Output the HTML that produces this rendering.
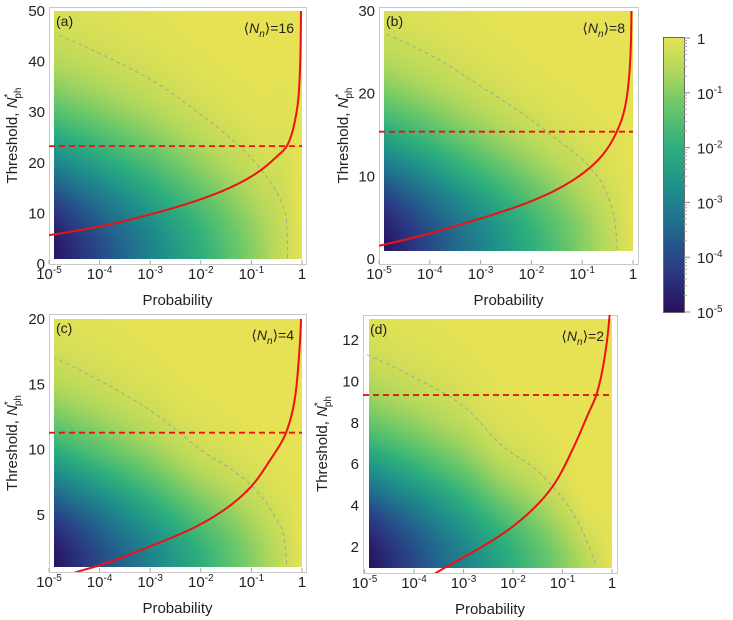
<!DOCTYPE html>
<html><head><meta charset="utf-8">
<style>
body{margin:0;background:#fff;}
#root{position:relative;width:733px;height:620px;overflow:hidden;font-family:"Liberation Sans",sans-serif;}
canvas{position:absolute;}
svg{position:absolute;left:0;top:0;}
</style></head>
<body>
<div id="root">
<canvas id="hm-a"></canvas>
<canvas id="hm-b"></canvas>
<canvas id="hm-c"></canvas>
<canvas id="hm-d"></canvas>
<canvas id="cbar"></canvas>
<svg id="ov" width="733" height="620"></svg>
</div>
<script>
// ---- data ----
const xTickLabels=["10","10","10","10","10","1"];
const xTickExp=["-5","-4","-3","-2","-1",""];
const yTicks_a=[0,10,20,30,40,50];
const yTicks_b=[0,10,20,30];
const yTicks_c=[5,10,15,20];
const yTicks_d=[2,4,6,8,10,12];
const cbarExp=["","-1","-2","-3","-4","-5"];
const contourLevel=0.5;
const redP_a=[1e-5,1e-4,1e-3,1e-2,0.1,0.3,0.513,0.728,0.871,0.942,0.955];
const redN_a=[5.7,7.4,9.8,12.8,17.3,21.0,23.5,28.4,34.3,44.2,50];
const dashP_a=[1.3e-5,1e-4,1e-3,9.5e-3,0.0437,0.2,0.427,0.513,0.52];
const dashN_a=[45.5,41.6,36.5,29.7,24.4,17.2,11.3,5.3,1.2];
const redP_b=[1e-5,1e-4,1e-3,1e-2,0.1,0.26,0.479,0.697,0.847,0.912,0.933];
const redN_b=[1.6,3.1,4.9,7.0,10.3,12.7,15.4,18.4,22.4,26.4,30];
const dashP_b=[1.3e-5,1e-4,1e-3,6.0e-3,0.0269,0.123,0.302,0.479,0.49];
const dashN_b=[27.3,24.7,20.9,17.8,14.8,11.5,7.9,2.3,1.1];
const redP_c=[1.5e-5,3.2e-5,1e-4,1e-3,1e-2,0.1,0.234,0.483,0.728,0.871,0.955];
const redN_c=[0.1,0.58,1.15,2.6,4.3,7.2,9.2,11.3,14.0,17.1,20];
const dashP_c=[1.3e-5,1e-4,1e-3,9.5e-3,0.0437,0.11,0.269,0.461,0.5];
const dashN_c=[17,15.3,13,10.05,8.4,7.1,5.1,2.8,1.25];
const redP_d=[1.5e-4,2.75e-4,1e-3,1e-2,0.0646,0.166,0.309,0.49,0.724,0.871,0.9];
const redN_d=[0.3,0.74,1.5,3.0,4.96,6.8,8.27,9.4,11.3,12.9,13.3];
const dashP_d=[1.1e-5,1e-4,1e-3,5.5e-3,0.0257,0.0646,0.166,0.309,0.457];
const dashN_d=[11.3,10.2,8.8,6.98,5.85,4.9,3.6,2.3,1.2];
const hline=[23.3,15.4,11.3,9.34];
const meanN=["16","8","4","2"];
const letters=["a","b","c","d"];

// ---- layout ----
const panels=[
 {id:'a',fx0:49,fy0:7,fx1:306,fy1:264,x0:49,x1:302,yv0:0,yp0:264,yv1:50,yp1:11,ymax:50,ticks:yTicks_a,rp:redP_a,rn:redN_a,dp:dashP_a,dn:dashN_a,ylx:12},
 {id:'b',fx0:379,fy0:7,fx1:638,fy1:264,x0:379,x1:633,yv0:0,yp0:259,yv1:30,yp1:11,ymax:30,ticks:yTicks_b,rp:redP_b,rn:redN_b,dp:dashP_b,dn:dashN_b,ylx:343},
 {id:'c',fx0:49,fy0:314,fx1:306,fy1:572,x0:49,x1:302,yv0:5,yp0:515,yv1:20,yp1:319,ymax:20,ticks:yTicks_c,rp:redP_c,rn:redN_c,dp:dashP_c,dn:dashN_c,ylx:12},
 {id:'d',fx0:363,fy0:315,fx1:617,fy1:573,x0:364.5,x1:612,yv0:2,yp0:547,yv1:12,yp1:340,ymax:13,ticks:yTicks_d,rp:redP_d,rn:redN_d,dp:dashP_d,dn:dashN_d,ylx:322}
];
const stops=[[0,[40,15,94]],[0.15,[42,58,132]],[0.3,[34,103,141]],[0.45,[31,142,139]],[0.6,[45,175,125]],[0.75,[105,199,106]],[0.88,[178,216,92]],[1,[230,226,84]]];
function cmap(t){t=Math.max(0,Math.min(1,t));for(let i=1;i<stops.length;i++){if(t<=stops[i][0]){const a=stops[i-1],b=stops[i];const f=(t-a[0])/(b[0]-a[0]);return a[1].map((v,j)=>v+(b[1][j]-v)*f);}}return stops[stops.length-1][1];}
const NS='http://www.w3.org/2000/svg';
const ov=document.getElementById('ov');
function mk(tag,attrs,parent){const e=document.createElementNS(NS,tag);for(const k in attrs)e.setAttribute(k,attrs[k]);(parent||ov).appendChild(e);return e;}
function curvePath(ps,ns,xs,ys){
 let pts=ps.map((p,i)=>[Math.log(-Math.log10(p)),ns[i]]).sort((a,b)=>a[0]-b[0]);
 const n=pts.length,X=pts.map(p=>p[0]),Y=pts.map(p=>p[1]);
 const d=[],m=new Array(n);
 for(let i=0;i<n-1;i++)d.push((Y[i+1]-Y[i])/(X[i+1]-X[i]));
 m[0]=d[0];m[n-1]=d[n-2];
 for(let i=1;i<n-1;i++){m[i]=(d[i-1]*d[i]<=0)?0:(d[i-1]+d[i])/2;}
 for(let i=0;i<n-1;i++){if(d[i]===0){m[i]=m[i+1]=0;continue;}const a=m[i]/d[i],b=m[i+1]/d[i],s=a*a+b*b;if(s>9){const t=3/Math.sqrt(s);m[i]=t*a*d[i];m[i+1]=t*b*d[i];}}
 const out=[];
 for(let i=0;i<n-1;i++){const h=X[i+1]-X[i];for(let s=0;s<=20;s++){if(i>0&&s===0)continue;const t=s/20,t2=t*t,t3=t2*t;
  const y=(2*t3-3*t2+1)*Y[i]+(t3-2*t2+t)*h*m[i]+(-2*t3+3*t2)*Y[i+1]+(t3-t2)*h*m[i+1];
  const q=X[i]+t*h;const p=Math.pow(10,-Math.exp(q));out.push([xs(p),ys(y)]);}}
 return 'M'+out.map(p=>p[0].toFixed(2)+','+p[1].toFixed(2)).join(' L');
}
const lvl=Math.log10(contourLevel);

panels.forEach((P,idx)=>{
 const xs=p=>P.x0+(Math.log10(p)+5)/5*(P.x1-P.x0);
 const ys=v=>P.yp0+(v-P.yv0)/(P.yv1-P.yv0)*(P.yp1-P.yp0);
 const g=mk('g',{});
 
 
 const sl=[],sv=[];
 P.dp.forEach((p,i)=>{const lp=Math.log10(p);if(lp<lvl*1.2){sl.push(lp);sv.push((P.dn[i]-1)/Math.sqrt(Math.log(lp/lvl)));}});
 const S=lp=>{if(lp<=sl[0])return sv[0];if(lp>=sl[sl.length-1])return sv[sv.length-1];for(let i=1;i<sl.length;i++){if(lp<=sl[i]){const f=(lp-sl[i-1])/(sl[i]-sl[i-1]);return sv[i-1]+(sv[i]-sv[i-1])*f;}}return sv[sv.length-1];};
 const hx0=Math.round(xs(1.25e-5)),hx1=Math.round(xs(1)),hy0=Math.round(ys(P.ymax)),hy1=Math.round(ys(1));
 const cv=document.getElementById('hm-'+P.id);const w=hx1-hx0,h=hy1-hy0;
 cv.width=w;cv.height=h;cv.style.left=hx0+'px';cv.style.top=hy0+'px';
 const ctx=cv.getContext('2d');const img=ctx.createImageData(w,h);
 for(let i=0;i<w;i++){const lp=(hx0+i+0.5-P.x0)/(P.x1-P.x0)*5-5;const s=S(lp);
  for(let j=0;j<h;j++){const N=P.yv0+(hy0+j+0.5-P.yp0)/(P.yp1-P.yp0)*(P.yv1-P.yv0);const u=Math.max(0,N-1)/s;const c=lp*Math.exp(-u*u);const col=cmap((c+5)/5);const o=(j*w+i)*4;img.data[o]=col[0];img.data[o+1]=col[1];img.data[o+2]=col[2];img.data[o+3]=255;}}
 ctx.putImageData(img,0,0);
 const fr=mk('rect',{x:P.fx0+0.5,y:P.fy0+0.5,width:P.fx1-P.fx0,height:P.fy1-P.fy0,fill:'none',stroke:'#c8c8c8','stroke-width':1},g);
 
 
 const cid='clip'+P.id;const cp=mk('clipPath',{id:cid},g);mk('rect',{x:P.fx0,y:P.fy0,width:P.fx1-P.fx0,height:P.fy1-P.fy0},cp);
 const dg=mk('path',{d:curvePath(P.dp,P.dn,xs,ys),fill:'none',stroke:'#999','stroke-width':0.9,'stroke-dasharray':'4,3',opacity:0.8},g);
 
 
 const hl=mk('line',{x1:P.fx0,x2:hx1,y1:ys(hline[idx]),y2:ys(hline[idx]),stroke:'#ee1111','stroke-width':1.8,'stroke-dasharray':'6,4'},g);
 
 
 const rc=mk('path',{d:curvePath(P.rp,P.rn,xs,ys),fill:'none',stroke:'#ee1111','stroke-width':2,'clip-path':'url(#'+cid+')'},g);
 
 
 const tyx=(P.fy1+15);
 xTickLabels.forEach((t,i)=>{const x=xs(Math.pow(10,i-5));
  mk('line',{x1:x,x2:x,y1:P.fy1,y2:P.fy1-4,stroke:'#aaa'},g);
  const tx=mk('text',{x:x,y:tyx,'font-size':15,'text-anchor':'middle',fill:'#222'},g);
  
  
  tx.textContent=t; if(xTickExp[i]){const s=mk('tspan',{'font-size':10,dy:-6},tx);s.textContent=xTickExp[i];}});
 const xl=mk('text',{x:(P.fx0+P.fx1)/2,y:P.fy1+41,'font-size':15,'text-anchor':'middle',fill:'#222'},g);
 
 
 xl.textContent='Probability';
 P.ticks.forEach(v=>{const y=ys(v);const tx=mk('text',{x:P.fx0-4,y:y+5,'font-size':15,'text-anchor':'end',fill:'#222'},g);
  
  
  tx.textContent=v;});
 const cy=(P.fy0+P.fy1)/2;
 const yl=mk('text',{x:P.ylx+5,y:cy,'font-size':15,'text-anchor':'middle',fill:'#222',transform:'rotate(-90 '+(P.ylx+5)+' '+cy+')'},g);
 
 
 yl.textContent='Threshold, ';
 const it=mk('tspan',{'font-style':'italic'},yl);it.textContent='N';
 const sup=mk('tspan',{'font-size':10,dy:-6},yl);sup.textContent='*';
 const sub=mk('tspan',{'font-size':10,dy:10,dx:-5},yl);sub.textContent='ph';
 const pl=mk('text',{x:P.fx0+7,y:P.fy0+19,'font-size':14,fill:'#222'},g);
 
 
 pl.textContent='('+letters[idx]+')';
 const ml=mk('text',{x:hx1-8,y:P.fy0+26,'font-size':14,'text-anchor':'end',fill:'#222'},g);
 
 
 ml.textContent='⟨';const ni=mk('tspan',{'font-style':'italic'},ml);ni.textContent='N';
 const nn=mk('tspan',{'font-style':'italic','font-size':10,dy:4},ml);nn.textContent='n';
 const rest=mk('tspan',{dy:-4},ml);rest.textContent='⟩='+meanN[idx];
});
(function(){const cx0=664,cy0=38,cw=20,ch=274;const cv=document.getElementById('cbar');cv.width=cw;cv.height=ch;cv.style.left=cx0+'px';cv.style.top=cy0+'px';
 const ctx=cv.getContext('2d');for(let j=0;j<ch;j++){const c=cmap(1-(j+0.5)/ch);ctx.fillStyle='rgb('+c.map(Math.round).join(',')+')';ctx.fillRect(0,j,cw,1);}
 mk('rect',{x:cx0-0.5,y:cy0-0.5,width:cw+1,height:ch+1,fill:'none',stroke:'#444','stroke-width':0.8});
 cbarExp.forEach((e,i)=>{const y=cy0+i*ch/5;
  mk('line',{x1:cx0+cw,x2:cx0+cw+6,y1:y,y2:y,stroke:'#888'});
  if(i<5){for(let m=2;m<10;m++){const yy=y+ch/5*(1-Math.log10(m));mk('line',{x1:cx0+cw,x2:cx0+cw+3,y1:yy,y2:yy,stroke:'#aaa'});}}
  const t=mk('text',{x:697,y:y+6,'font-size':15,fill:'#222'});
  
  
  t.textContent=e?'10':'1';if(e){const s=mk('tspan',{'font-size':10,dy:-6},t);s.textContent=e;}});
})();
</script>
</body></html>
